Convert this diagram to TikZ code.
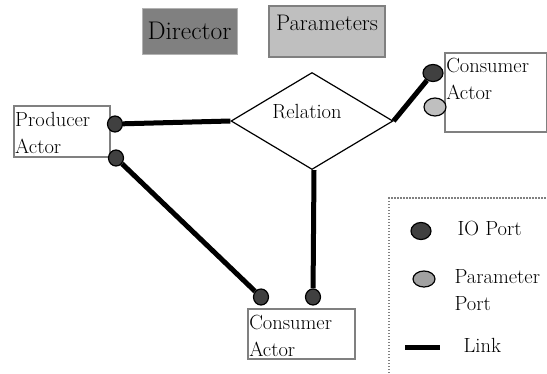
\documentclass[tikz,border=0pt]{standalone}
\usetikzlibrary{shapes.geometric}

\begin{document}
\begin{tikzpicture}[x=1pt,y=-1pt,line width=1.2pt,
    every node/.style = {font=\fontsize{20.5}{27}\selectfont},
    actor/.style = {draw=gray, line width=1.5pt, anchor=north west,
        align=left, inner xsep=1.5pt, inner ysep=0pt},
    ioport/.style = {ellipse, draw, fill=black!75, line width=1.2pt,
        minimum width=15, minimum height=16, inner sep=0pt},
    parport/.style = {ioport, fill=black!25},
    legtext/.style = {anchor=base west, inner sep=0pt},
    link/.style = {line width=5pt}]
    \useasboundingbox (0,0) rectangle (547,373);

    \node[draw=black!30, fill=black!50, line width=1pt, minimum width=95,
        minimum height=46, inner sep=0pt,
        font=\fontsize{25.5}{30}\selectfont] (director) at (189.5,31) {Director};
    \node[draw=gray, fill=black!25, line width=2pt, anchor=north,
        minimum width=116, inner sep=0pt, text height=24pt, text depth=27pt,
        font=\fontsize{22.5}{28}\selectfont] (params) at (327,5) {Parameters};

    \node[actor, text width=93, text height=21pt, text depth=30pt]
        (producer) at (13,105) {Producer\\Actor};
    \node[actor, text width=104, text height=21pt, text depth=29pt]
        (consbot) at (247,308) {Consumer\\Actor};
    \node[actor, text width=99, text height=20pt, text depth=59pt]
        (consright) at (444,52) {Consumer\\Actor};

    \node[diamond, draw, minimum width=162, minimum height=97, inner sep=0pt,
        label={[name=reltext, xshift=-5pt, yshift=9pt]center:Relation}]
        (rel) at (312,121) {};

    \node[ioport] (pp1) at (115,124) {};
    \node[ioport] (pp2) at (116,158) {};
    \node[ioport] (cb1) at (261,297) {};
    \node[ioport] (cb2) at (313,297) {};
    \node[ioport, minimum width=20, minimum height=17] (cr1) at (433,73) {};
    \node[parport, minimum width=22, minimum height=18] (cr2) at (435,107) {};

    \path[link]
        (pp1) edge (rel.west)
        (pp2) edge (cb1)
        ([xshift=2pt]rel.south) edge (cb2)
        (rel.east) edge (cr1);

    \draw[gray, line width=1.5pt, dash pattern=on 1.5pt off 1.5pt]
        (389,373) |- (547,198);
    \node[ioport, minimum width=20, minimum height=17] (legio) at (421,231) {};
    \node[legtext] (legiotext) at (457,235) {IO Port};
    \node[parport, fill=black!37, minimum width=22, minimum height=16]
        (legpar) at (424,279) {};
    \node[legtext, text width=90, align=left] (legpartext) at (454,283)
        {Parameter\\Port};
    \coordinate (lk1) at (405,347);
    \coordinate (lk2) at (440,347);
    \draw[link] (lk1) -- (lk2);
    \node[legtext] (legtextlink) at (463,352) {Link};
\end{tikzpicture}
\end{document}
